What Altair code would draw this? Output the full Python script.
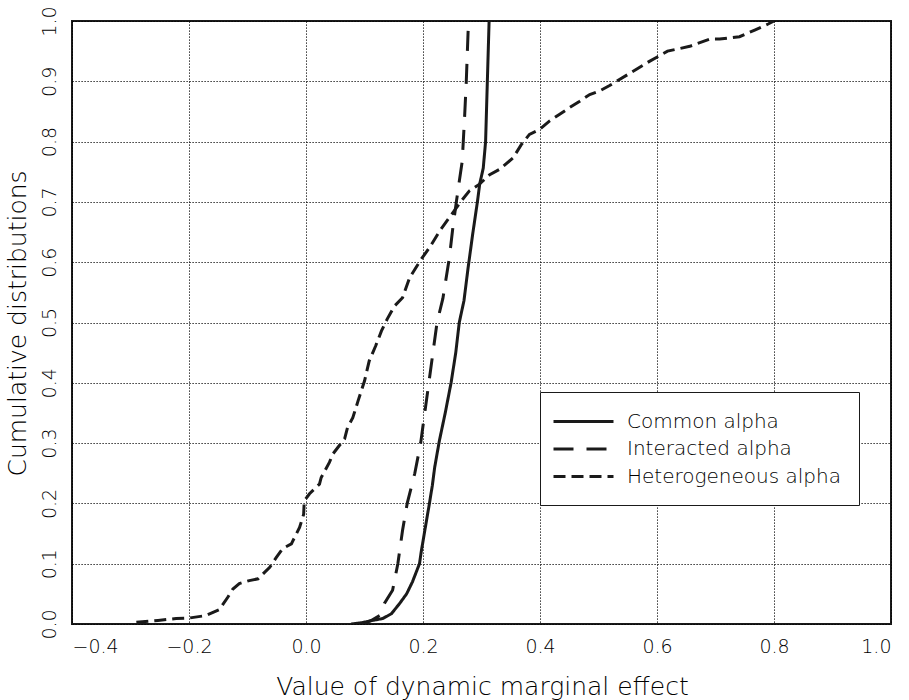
import altair as alt
import pandas as pd

series_names = ["Common alpha", "Interacted alpha", "Heterogeneous alpha"]

common_x = [0.077, 0.095, 0.114, 0.131, 0.146, 0.160, 0.172, 0.182, 0.190, 0.194, 0.197, 0.205, 0.211, 0.216,
            0.220, 0.228, 0.238, 0.248, 0.256, 0.262, 0.270, 0.277, 0.285, 0.293, 0.297, 0.303, 0.307, 0.310, 0.313]
common_p = [0.000, 0.002, 0.006, 0.009, 0.017, 0.034, 0.050, 0.070, 0.090, 0.100, 0.120, 0.166, 0.200, 0.230,
            0.260, 0.304, 0.350, 0.400, 0.450, 0.500, 0.536, 0.590, 0.647, 0.700, 0.730, 0.756, 0.800, 0.900, 1.000]

interacted_x = [0.095, 0.110, 0.126, 0.134, 0.148, 0.157, 0.165, 0.173, 0.186, 0.196, 0.203, 0.210, 0.217,
                0.224, 0.234, 0.245, 0.251, 0.257, 0.262, 0.267, 0.271, 0.274, 0.277, 0.278]
interacted_p = [0.000, 0.005, 0.014, 0.034, 0.056, 0.100, 0.155, 0.200, 0.250, 0.300, 0.350, 0.400, 0.450,
                0.500, 0.540, 0.607, 0.657, 0.700, 0.734, 0.767, 0.839, 0.900, 0.980, 1.000]

hetero_x = [-0.290, -0.253, -0.222, -0.199, -0.171, -0.148, -0.134, -0.125, -0.114, -0.097, -0.082, -0.062,
            -0.051, -0.040, -0.025, -0.011, -0.004, -0.003, 0.006, 0.023, 0.026, 0.040, 0.046, 0.057, 0.066,
            0.071, 0.080, 0.089, 0.100, 0.108, 0.119, 0.129, 0.139, 0.151, 0.165, 0.177, 0.197, 0.211, 0.228,
            0.245, 0.265, 0.279, 0.296, 0.314, 0.331, 0.354, 0.368, 0.382, 0.399, 0.416, 0.433, 0.450, 0.468,
            0.485, 0.502, 0.519, 0.553, 0.587, 0.618, 0.656, 0.690, 0.707, 0.741, 0.767, 0.790, 0.800]
hetero_p = [0.003, 0.006, 0.009, 0.010, 0.014, 0.024, 0.044, 0.058, 0.067, 0.072, 0.075, 0.094,
            0.110, 0.125, 0.133, 0.160, 0.182, 0.204, 0.216, 0.232, 0.243, 0.268, 0.282, 0.296, 0.307,
            0.326, 0.342, 0.370, 0.403, 0.436, 0.461, 0.486, 0.506, 0.527, 0.541, 0.574, 0.605, 0.624, 0.651,
            0.674, 0.701, 0.718, 0.729, 0.745, 0.754, 0.773, 0.795, 0.812, 0.820, 0.834, 0.845, 0.856, 0.867,
            0.878, 0.884, 0.893, 0.913, 0.933, 0.950, 0.958, 0.970, 0.970, 0.974, 0.985, 0.995, 1.000]

x_ticks = [-0.4, -0.2, 0.0, 0.2, 0.4, 0.6, 0.8, 1.0]
y_ticks = [0.0, 0.1, 0.2, 0.3, 0.4, 0.5, 0.6, 0.7, 0.8, 0.9, 1.0]

rows = []
for name, xs, ps in zip(series_names, [common_x, interacted_x, hetero_x], [common_p, interacted_p, hetero_p]):
    for i, (xv, pv) in enumerate(zip(xs, ps)):
        rows.append({"series": name, "x": xv, "p": pv, "i": i})
df = pd.DataFrame(rows)

FONT = "DejaVu Sans"
INK = "#1a1a1a"
TXT = "#000000"

chart = alt.Chart(df).mark_line(strokeWidth=3, color=INK, clip=True, strokeCap="butt").encode(
    x=alt.X("x:Q",
            scale=alt.Scale(domain=[-0.4, 1.0], nice=False, zero=False),
            axis=alt.Axis(values=x_ticks, format=".1f", title="Value of dynamic marginal effect",
                          labelFlush=True, labelBaseline="alphabetic", labelPadding=28,
                          titleX=410, titleY=70, titleBaseline="alphabetic", titleAlign="center")),
    y=alt.Y("p:Q",
            scale=alt.Scale(domain=[0, 1], nice=False, zero=False),
            axis=alt.Axis(values=y_ticks, format=".1f", title="Cumulative distributions",
                          labelAngle=270, labelAlign="center", labelBaseline="alphabetic", labelPadding=17,
                          titleX=-47, titleY=302, titleAngle=270, titleBaseline="alphabetic",
                          titleAlign="center")),
    strokeDash=alt.StrokeDash("series:N",
                              scale=alt.Scale(domain=series_names, range=[[1, 0], [20, 13], [12, 6]]),
                              legend=alt.Legend(title=None, orient="none", legendX=468, legendY=371,
                                                fillColor="white", strokeColor=INK, padding=18,
                                                symbolType="M-3,0H3", symbolSize=400,
                                                symbolStrokeWidth=3, symbolStrokeColor=INK,
                                                symbolOffset=14, labelOffset=32,
                                                labelFontSize=20, labelFont=FONT, labelColor=TXT,
                                                labelFontWeight=300,
                                                rowPadding=5.5, labelLimit=0)),
    order=alt.Order("i:Q"),
).properties(
    width=819, height=603,
    autosize=alt.AutoSizeParams(type="none"),
    padding={"left": 72, "top": 21, "right": 18, "bottom": 76},
).configure_view(
    stroke=INK, strokeWidth=2
).configure_axis(
    domain=False, ticks=False, grid=True, gridColor="#000", gridDash=[1.2, 1.8], gridWidth=1,
    gridOpacity=1, labelFont=FONT, labelFontSize=19, labelColor=TXT, labelFontWeight=300,
    titleFont=FONT, titleFontSize=25, titleFontWeight=300, titleColor=TXT
)

chart.save("out.html", embed_options={"renderer": "svg", "actions": False})
